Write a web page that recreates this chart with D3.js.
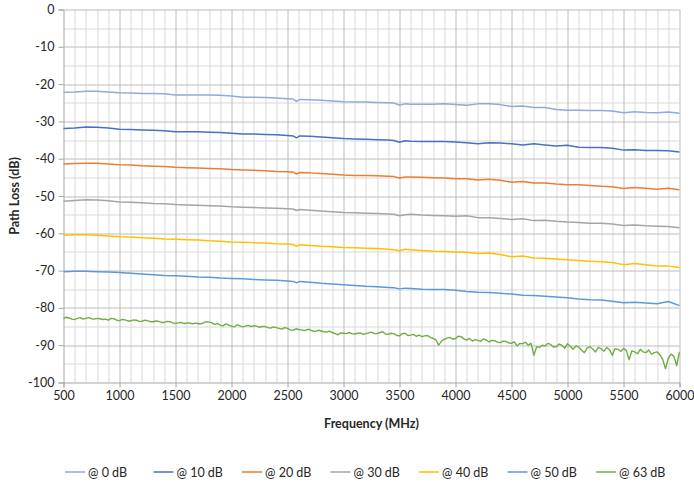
<!DOCTYPE html>
<html>
<head>
<meta charset="utf-8">
<script src="https://cdnjs.cloudflare.com/ajax/libs/d3/7.8.5/d3.min.js"></script>
<style>
  body { margin: 0; background: #fff; }
  svg text { font-family: Lato, "Liberation Sans", sans-serif; fill: #262626; }
</style>
</head>
<body>
<div id="container"></div>
<script>
/* chart data */
const seriesNames = ["@ 0 dB", "@ 10 dB", "@ 20 dB", "@ 30 dB", "@ 40 dB", "@ 50 dB", "@ 63 dB"]
const seriesColors = ["#8FAADC", "#4472C4", "#ED7D31", "#A5A5A5", "#FFC000", "#5B9BD5", "#70AD47"]

const freqs = [500, 600, 700, 800, 900, 1000, 1100, 1200, 1300, 1400, 1500, 1600, 1700, 1800, 1900,
  2000, 2100, 2200, 2300, 2400, 2500, 2550, 2580, 2610, 2700, 2800, 2900, 3000, 3100, 3200, 3300,
  3400, 3450, 3500, 3550, 3600, 3700, 3800, 3900, 4000, 4100, 4200, 4300, 4400, 4500, 4600, 4700,
  4800, 4900, 5000, 5100, 5200, 5300, 5400, 5500, 5600, 5700, 5800, 5900, 6000]

const loss0 = [-22.2, -22.1, -21.9, -21.9, -22.1, -22.3, -22.4, -22.5, -22.5, -22.6, -22.9, -22.9, -22.9, -22.9, -23.0,
  -23.2, -23.5, -23.5, -23.6, -23.7, -23.9, -24.0, -24.6, -24.1, -24.2, -24.3, -24.5, -24.7, -24.8, -24.8, -24.9,
  -25.0, -25.1, -25.6, -25.3, -25.4, -25.4, -25.4, -25.3, -25.5, -25.7, -25.3, -25.3, -25.5, -26.0, -25.9, -26.3,
  -26.3, -26.8, -27.0, -27.0, -27.1, -27.1, -27.2, -27.7, -27.4, -27.6, -27.7, -27.5, -27.8]
const loss10 = [-31.9, -31.8, -31.5, -31.6, -31.8, -32.1, -32.2, -32.3, -32.4, -32.5, -32.8, -32.8, -32.8, -32.9, -33.0,
  -33.2, -33.4, -33.4, -33.5, -33.6, -33.8, -33.9, -34.4, -33.9, -34.0, -34.2, -34.4, -34.6, -34.7, -34.8, -34.9,
  -35.0, -35.1, -35.6, -35.2, -35.3, -35.4, -35.4, -35.4, -35.5, -35.7, -36.0, -35.7, -35.8, -36.0, -36.3, -36.0,
  -36.3, -36.6, -36.4, -36.9, -37.0, -37.0, -37.2, -37.7, -37.6, -37.8, -37.8, -37.9, -38.2]
const loss20 = [-41.4, -41.3, -41.2, -41.2, -41.4, -41.6, -41.7, -41.9, -42.0, -42.1, -42.3, -42.4, -42.5, -42.6, -42.7,
  -42.9, -43.0, -43.1, -43.2, -43.4, -43.5, -43.6, -44.1, -43.7, -43.8, -44.0, -44.2, -44.4, -44.5, -44.5, -44.6,
  -44.7, -44.8, -45.2, -44.9, -44.9, -45.0, -45.1, -45.2, -45.4, -45.4, -45.7, -45.5, -45.8, -46.3, -46.1, -46.5,
  -46.5, -46.8, -47.0, -47.0, -47.2, -47.4, -47.5, -48.0, -47.7, -47.9, -48.2, -47.9, -48.3]
const loss30 = [-51.4, -51.2, -51.0, -51.1, -51.3, -51.6, -51.7, -51.8, -52.0, -52.1, -52.3, -52.4, -52.5, -52.6, -52.7,
  -52.9, -53.0, -53.1, -53.2, -53.3, -53.4, -53.5, -53.9, -53.6, -53.8, -54.0, -54.2, -54.4, -54.5, -54.6, -54.7,
  -54.8, -54.9, -55.3, -55.0, -54.9, -55.1, -55.2, -55.3, -55.4, -55.3, -55.8, -55.8, -56.0, -56.3, -56.1, -56.6,
  -56.5, -56.8, -57.0, -57.1, -57.3, -57.3, -57.5, -57.9, -57.8, -58.0, -58.1, -58.2, -58.5]
const loss40 = [-60.5, -60.4, -60.4, -60.5, -60.7, -60.9, -61.0, -61.2, -61.3, -61.5, -61.6, -61.7, -61.8, -62.0, -62.1,
  -62.3, -62.4, -62.5, -62.6, -62.8, -62.9, -63.0, -63.5, -63.1, -63.3, -63.5, -63.6, -63.8, -63.9, -64.0, -64.1,
  -64.3, -64.4, -64.7, -64.3, -64.4, -64.6, -64.8, -64.9, -65.0, -65.1, -65.4, -65.3, -65.7, -66.3, -66.1, -66.6,
  -66.7, -66.9, -67.1, -67.3, -67.5, -67.6, -67.8, -68.4, -68.1, -68.4, -68.8, -68.8, -69.2]
const loss50 = [-70.3, -70.2, -70.2, -70.3, -70.4, -70.5, -70.7, -70.9, -71.1, -71.3, -71.4, -71.5, -71.7, -71.8, -72.0,
  -72.1, -72.2, -72.4, -72.5, -72.6, -72.8, -72.9, -73.3, -72.9, -73.1, -73.4, -73.6, -73.8, -74.0, -74.2, -74.3,
  -74.5, -74.6, -74.9, -74.7, -74.8, -75.0, -75.1, -75.1, -75.3, -75.6, -75.8, -75.9, -76.1, -76.3, -76.6, -76.7,
  -76.9, -77.1, -77.3, -77.6, -77.8, -77.9, -78.2, -78.6, -78.5, -78.7, -78.9, -78.3, -79.4]

/* the 63 dB trace is noisy, so it is sampled every 25 MHz */
const freqs63 = [500, 525, 550, 575, 600, 625, 650, 675, 700, 725, 750, 775, 800, 825, 850, 875, 900, 925, 950, 975,
  1000, 1025, 1050, 1075, 1100, 1125, 1150, 1175, 1200, 1225, 1250, 1275, 1300, 1325, 1350, 1375, 1400, 1425, 1450, 1475,
  1500, 1525, 1550, 1575, 1600, 1625, 1650, 1675, 1700, 1725, 1750, 1775, 1800, 1825, 1850, 1875, 1900, 1925, 1950, 1975,
  2000, 2025, 2050, 2075, 2100, 2125, 2150, 2175, 2200, 2225, 2250, 2275, 2300, 2325, 2350, 2375, 2400, 2425, 2450, 2475,
  2500, 2525, 2550, 2575, 2600, 2625, 2650, 2675, 2700, 2725, 2750, 2775, 2800, 2825, 2850, 2875, 2900, 2925, 2950, 2975,
  3000, 3025, 3050, 3075, 3100, 3125, 3150, 3175, 3200, 3225, 3250, 3275, 3300, 3325, 3350, 3375, 3400, 3425, 3450, 3475,
  3500, 3525, 3550, 3575, 3600, 3625, 3650, 3675, 3700, 3725, 3750, 3775, 3800, 3825, 3850, 3875, 3900, 3925, 3950, 3975,
  4000, 4025, 4050, 4075, 4100, 4125, 4150, 4175, 4200, 4225, 4250, 4275, 4300, 4325, 4350, 4375, 4400, 4425, 4450, 4475,
  4500, 4525, 4550, 4575, 4600, 4625, 4650, 4675, 4700, 4725, 4750, 4775, 4800, 4825, 4850, 4875, 4900, 4925, 4950, 4975,
  5000, 5025, 5050, 5075, 5100, 5125, 5150, 5175, 5200, 5225, 5250, 5275, 5300, 5325, 5350, 5375, 5400, 5425, 5450, 5475,
  5500, 5525, 5550, 5575, 5600, 5625, 5650, 5675, 5700, 5725, 5750, 5775, 5800, 5825, 5850, 5875, 5900, 5925, 5950, 5975,
  6000]
const loss63 = [-82.9, -82.5, -82.7, -83.0, -83.1, -82.8, -82.6, -83.0, -82.8, -82.6, -82.9, -83.0, -82.8, -82.9, -83.1, -83.0, -83.3, -82.8, -82.9, -83.3,
  -83.4, -83.1, -83.2, -83.5, -83.5, -83.2, -83.3, -83.6, -83.6, -83.3, -83.4, -83.7, -83.7, -83.5, -83.6, -83.9, -83.9, -83.6, -83.7, -84.0,
  -84.2, -84.0, -83.9, -84.2, -84.1, -84.0, -84.3, -84.1, -84.2, -84.3, -84.0, -83.7, -83.8, -84.0, -84.4, -84.2, -84.6, -84.8, -84.3, -84.6,
  -84.9, -85.1, -84.5, -84.8, -85.1, -84.9, -84.7, -85.0, -84.8, -84.9, -85.2, -85.0, -85.0, -85.3, -85.4, -85.1, -85.3, -85.5, -85.7, -85.3,
  -85.5, -85.9, -86.0, -85.6, -85.8, -85.9, -86.1, -85.8, -85.8, -86.2, -86.3, -86.0, -86.2, -86.4, -86.5, -86.2, -86.6, -86.9, -87.2, -86.7,
  -86.8, -86.9, -86.6, -86.9, -87.0, -86.8, -86.7, -87.1, -86.9, -86.7, -86.5, -86.9, -86.9, -86.6, -86.4, -87.0, -87.1, -86.8, -86.9, -87.4,
  -87.5, -86.9, -86.8, -87.4, -87.3, -87.1, -87.6, -87.3, -87.7, -87.5, -87.4, -87.9, -88.2, -88.6, -90.0, -88.9, -88.4, -88.1, -87.9, -88.4,
  -88.2, -87.6, -87.7, -88.3, -88.6, -88.2, -88.9, -88.5, -88.7, -89.0, -88.3, -88.6, -89.1, -88.7, -88.8, -89.2, -89.3, -88.9, -89.0, -89.4,
  -89.5, -89.1, -90.2, -89.5, -89.6, -89.2, -90.0, -89.5, -92.7, -90.4, -90.6, -90.0, -90.2, -89.5, -89.8, -90.5, -90.4, -89.7, -90.0, -90.8,
  -89.6, -90.3, -91.1, -90.2, -90.5, -91.3, -92.0, -90.8, -90.4, -91.0, -91.8, -90.6, -90.9, -91.6, -90.6, -91.2, -92.7, -90.9, -91.1, -91.7,
  -90.9, -91.4, -93.9, -91.5, -91.8, -92.3, -91.1, -91.8, -92.0, -91.3, -92.4, -92.0, -91.8, -92.6, -93.8, -96.3, -93.5, -92.4, -93.0, -95.5,
  -91.8]

const xTicks = [500, 1000, 1500, 2000, 2500, 3000, 3500, 4000, 4500, 5000, 5500, 6000]
const yTicks = [0, -10, -20, -30, -40, -50, -60, -70, -80, -90, -100]

/* sizes */
const width = 694
const height = 483
const margin = {top: 9.5, right: 14.5, bottom: 100.5, left: 63.5}
const plotW = width - margin.left - margin.right
const plotH = height - margin.top - margin.bottom

const svg = d3.select("#container")
              .append("svg")
              .attr("width", width)
              .attr("height", height);

const x = d3.scaleLinear().domain([500, 6000]).range([0, plotW]);
const y = d3.scaleLinear().domain([-100, 0]).range([plotH, 0]);

const plot = svg.append("g")
                .attr("transform", "translate(" + margin.left + "," + margin.top + ")");

/* grid: minor then major */
const minorX = d3.range(500, 6001, 100).filter(d => d % 500 !== 0);
const minorY = d3.range(-95, 0, 10);
plot.append("g").selectAll("line").data(minorX).enter().append("line")
    .attr("x1", d => Math.round(x(d)) + 0.5).attr("x2", d => Math.round(x(d)) + 0.5)
    .attr("y1", 0).attr("y2", plotH)
    .attr("stroke", "#d9d9d9");
plot.append("g").selectAll("line").data(minorY).enter().append("line")
    .attr("y1", d => Math.round(y(d)) + 0.5).attr("y2", d => Math.round(y(d)) + 0.5)
    .attr("x1", 0).attr("x2", plotW)
    .attr("stroke", "#d9d9d9");
plot.append("g").selectAll("line").data(xTicks.slice(1)).enter().append("line")
    .attr("x1", d => Math.round(x(d)) + 0.5).attr("x2", d => Math.round(x(d)) + 0.5)
    .attr("y1", 0).attr("y2", plotH)
    .attr("stroke", "#bcbcbc");
plot.append("g").selectAll("line").data(yTicks.slice(0, -1)).enter().append("line")
    .attr("y1", d => Math.round(y(d)) + 0.5).attr("y2", d => Math.round(y(d)) + 0.5)
    .attr("x1", 0).attr("x2", plotW)
    .attr("stroke", "#bcbcbc");

/* axes */
const xAxis = d3.axisBottom(x).tickValues(xTicks).tickSize(5).tickPadding(4).tickFormat(d => String(d));
const yAxis = d3.axisLeft(y).tickValues(yTicks).tickSize(5).tickPadding(4).tickFormat(d => String(d));

const gx = plot.append("g").attr("transform", "translate(0," + plotH + ")").call(xAxis);
const gy = plot.append("g").call(yAxis);
[gx, gy].forEach(g => {
  g.select(".domain").attr("stroke", "#a6a6a6");
  g.selectAll(".tick line").attr("stroke", "#a6a6a6");
  g.selectAll(".tick text").attr("font-size", "12.5px").attr("fill", "#262626")
   .style("font-family", "Lato, 'Liberation Sans', sans-serif");
});

/* lines */
const line = d3.line().x(d => x(d[0])).y(d => y(d[1]));
const seriesValues = [loss0, loss10, loss20, loss30, loss40, loss50];
seriesValues.forEach((vals, i) => {
  plot.append("path")
      .datum(freqs.map((f, j) => [f, vals[j]]))
      .attr("d", line)
      .attr("fill", "none")
      .attr("stroke", seriesColors[i])
      .attr("stroke-width", 1.5)
      .attr("stroke-linejoin", "round");
});
plot.append("path")
    .datum(freqs63.map((f, j) => [f, loss63[j]]))
    .attr("d", line)
    .attr("fill", "none")
    .attr("stroke", seriesColors[6])
    .attr("stroke-width", 1.4)
    .attr("stroke-linejoin", "round");

/* axis titles */
svg.append("text")
   .attr("x", margin.left + plotW / 2)
   .attr("y", 428)
   .attr("text-anchor", "middle")
   .attr("font-size", "12.5px")
   .attr("font-weight", "bold")
   .text("Frequency (MHz)");
svg.append("text")
   .attr("transform", "translate(19," + (margin.top + plotH / 2) + ") rotate(-90)")
   .attr("text-anchor", "middle")
   .attr("font-size", "12.5px")
   .attr("font-weight", "bold")
   .text("Path Loss (dB)");

/* legend */
const legendX = d3.scalePoint().domain(seriesNames).range([65, 596]);
const legend = svg.append("g").attr("transform", "translate(0,472)");
const items = legend.selectAll("g").data(seriesNames).enter().append("g")
                    .attr("transform", d => "translate(" + legendX(d) + ",0)");
items.append("line")
     .attr("x1", 0).attr("x2", 20).attr("y1", 0).attr("y2", 0)
     .attr("stroke", (d, i) => seriesColors[i])
     .attr("stroke-width", 1.5);
items.append("text")
     .attr("x", 23).attr("y", 4.5)
     .attr("font-size", "12.5px")
     .text(d => d);
</script>
</body>
</html>
